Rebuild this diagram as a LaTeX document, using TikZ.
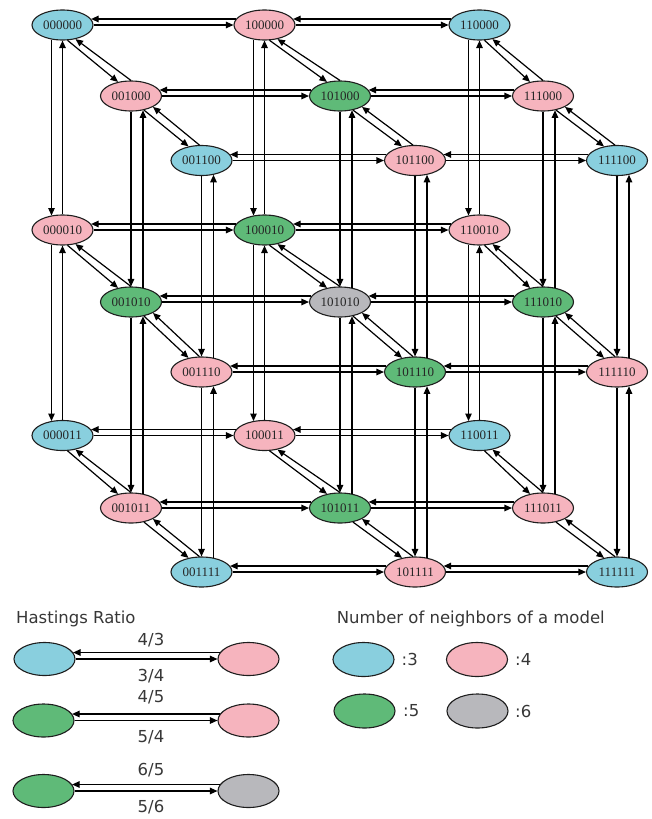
\documentclass[tikz,border=0pt]{standalone}
\usepackage{fontspec}
\setmainfont{Liberation Serif}
\newfontfamily\legfont{DejaVu Sans}
\usetikzlibrary{arrows.meta,calc,shapes.geometric}
\definecolor{cyanfill}{RGB}{137,207,222}
\definecolor{pinkfill}{RGB}{246,180,190}
\definecolor{greenfill}{RGB}{95,186,120}
\definecolor{grayfill}{RGB}{184,184,188}
\definecolor{outline}{RGB}{30,30,30}
\definecolor{legtextcol}{RGB}{55,55,55}
\tikzset{
  model/.style={ellipse, draw=outline, line width=1.1pt, minimum width=61pt, minimum height=30pt,
    inner sep=0pt, font=\fontsize{13}{15}\selectfont, text=black!85},
  cy/.style={model, fill=cyanfill},
  pk/.style={model, fill=pinkfill},
  gr/.style={model, fill=greenfill},
  gy/.style={model, fill=grayfill},
  legell/.style={minimum height=33pt},
  arr/.style={-{Triangle[length=7.5pt,width=6.5pt]}, line width=1.2pt, draw=black},
  legtext/.style={font=\legfont\fontsize{16.5}{19}\selectfont, text=legtextcol, inner sep=0pt}
}
\begin{document}
\begin{tikzpicture}[x=1pt,y=-1pt]
\useasboundingbox (0,0) rectangle (651,819);
% top layer
\node[cy] (n000) at (62.5,25) {000000};
\node[pk] (n100) at (264.5,25) {100000};
\node[cy] (n200) at (479.5,25) {110000};
\node[pk] (n010) at (131,96) {001000};
\node[gr] (n110) at (340,96) {101000};
\node[pk] (n210) at (543,96) {111000};
\node[cy] (n020) at (201.5,160.5) {001100};
\node[pk] (n120) at (415,160.5) {101100};
\node[cy] (n220) at (617,160.5) {111100};
% middle layer
\node[pk] (n001) at (62.5,230) {000010};
\node[gr] (n101) at (264.5,230) {100010};
\node[pk] (n201) at (479.5,230) {110010};
\node[gr] (n011) at (131,302) {001010};
\node[gy] (n111) at (340,302) {101010};
\node[gr] (n211) at (543,302) {111010};
\node[pk] (n021) at (201.5,372) {001110};
\node[gr] (n121) at (415,372) {101110};
\node[pk] (n221) at (617,372) {111110};
% bottom layer
\node[cy] (n002) at (62.5,435.5) {000011};
\node[pk] (n102) at (264.5,435.5) {100011};
\node[cy] (n202) at (479.5,435.5) {110011};
\node[pk] (n012) at (131,508) {001011};
\node[gr] (n112) at (340,508) {101011};
\node[pk] (n212) at (543,508) {111011};
\node[cy] (n022) at (201.5,572) {001111};
\node[pk] (n122) at (415,572) {101111};
\node[cy] (n222) at (617,572) {111111};
% horizontal pairs
\foreach \j in {0,1,2}{
  \foreach \k in {0,1,2}{
    \foreach \i/\ii in {0/1,1/2}{
      \draw[arr] ($(n\ii\j\k)+(-28.6,-6)$) -- ($(n\i\j\k)+(28.6,-6)$);
      \draw[arr] (n\i\j\k.east) -- (n\ii\j\k.west);
    }
  }
}
% vertical pairs
\foreach \i in {0,1,2}{
  \foreach \k/\kk in {0/1,1/2}{
    \draw[arr] ($(n\i0\k)+(-11,14.5)$) -- ($(n\i0\kk)+(-11,-14.5)$);
    \draw[arr] (n\i0\kk.north) -- (n\i0\k.south);
    \foreach \j in {1,2}{
      \draw[arr] (n\i\j\k.south) -- (n\i\j\kk.north);
      \draw[arr] ($(n\i\j\kk)+(12,-14.3)$) -- ($(n\i\j\k)+(12,14.3)$);
    }
  }
}
% diagonal pairs
\foreach \i in {0,1,2}{
  \foreach \k in {0,1,2}{
    \draw[arr] ($(n\i0\k)+(5,15.3)$) -- ($(n\i1\k)+(-13,-14.1)$);
    \draw[arr] (n\i1\k.north) -- ($(n\i0\k)+(13,14.1)$);
    \draw[arr] ($(n\i1\k)+(13,14.1)$) -- ($(n\i2\k)+(-13,-14.1)$);
    \draw[arr] ($(n\i2\k)+(-2,-15.4)$) -- ($(n\i1\k)+(22,10.9)$);
  }
}
% legend: Hastings ratio
\node[legtext, anchor=base west] (hr) at (16,623.3) {Hastings Ratio};
\node[cy, legell] (la1) at (44.5,659) {};
\node[pk, legell] (lb1) at (248.5,659) {};
\draw[arr] ($(lb1)+(-28.6,-6.5)$) -- ($(la1)+(28.6,-6.5)$);
\draw[arr] (la1.east) -- (lb1.west);
\node[legtext] (t1a) at (151,640) {4/3};
\node[legtext] (t1b) at (151,676.5) {3/4};
\node[gr, legell] (la2) at (43.5,720.5) {};
\node[pk, legell] (lb2) at (248.5,720.5) {};
\draw[arr] ($(lb2)+(-28.6,-6.5)$) -- ($(la2)+(28.6,-6.5)$);
\draw[arr] (la2.east) -- (lb2.west);
\node[legtext] (t2a) at (151,697.5) {4/5};
\node[legtext] (t2b) at (151,737) {5/4};
\node[gr, legell] (la3) at (43.5,791) {};
\node[gy, legell] (lb3) at (248.5,791) {};
\draw[arr] ($(lb3)+(-28.6,-6.5)$) -- ($(la3)+(28.6,-6.5)$);
\draw[arr] (la3.east) -- (lb3.west);
\node[legtext] (t3a) at (151,770) {6/5};
\node[legtext] (t3b) at (151,807) {5/6};
% legend: number of neighbours
\node[legtext, anchor=base west] (nn) at (336.7,623.3) {Number of neighbors of a model};
\node[cy, legell, minimum height=34pt] (k3) at (363.5,659.5) {};
\node[pk, legell, minimum height=34pt] (k4) at (477,659.5) {};
\node[gr, legell, minimum height=34pt] (k5) at (364.5,711) {};
\node[gy, legell, minimum height=34pt] (k6) at (477.5,711) {};
\node[legtext, anchor=west] (k3t) at (401.5,659.5) {:3};
\node[legtext, anchor=west] (k4t) at (515,659.5) {:4};
\node[legtext, anchor=west] (k5t) at (403,711) {:5};
\node[legtext, anchor=west] (k6t) at (515,711) {:6};
\end{tikzpicture}
\end{document}
